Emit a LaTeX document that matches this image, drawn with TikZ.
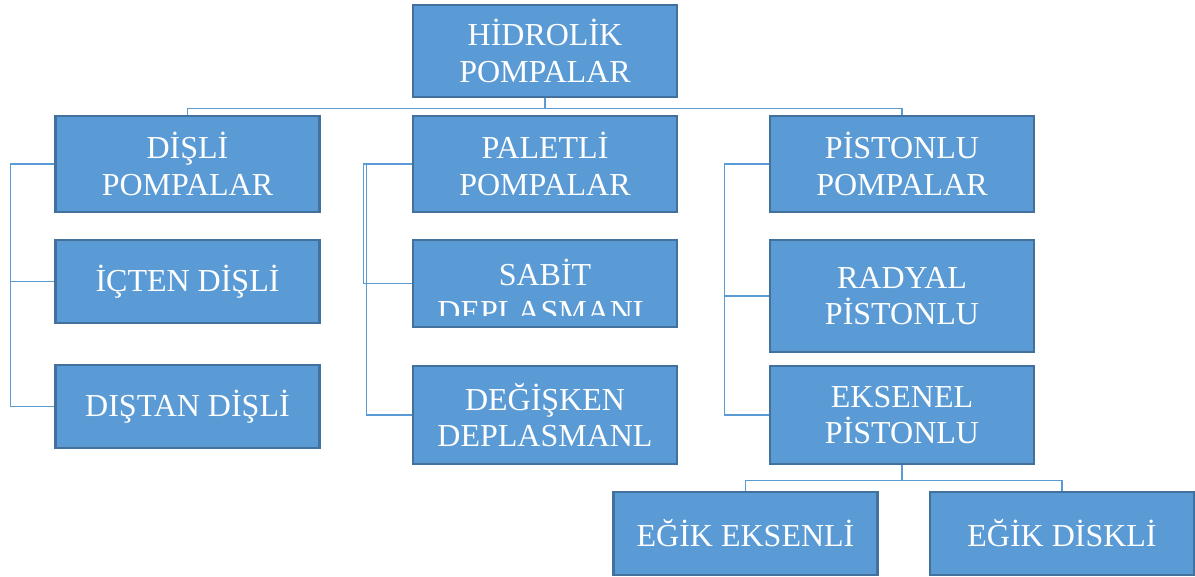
\documentclass[tikz,border=0pt]{standalone}
\usepackage{fontspec}
\setmainfont{Liberation Serif}
\usetikzlibrary{positioning}

\definecolor{kutu}{HTML}{5B9BD5}
\definecolor{kenar}{HTML}{41719C}

\tikzset{
  kutu/.style={draw=kenar,line width=1.6pt,fill=kutu,text=white,align=center,
    minimum width=198pt,inner sep=0pt,font=\fontsize{24}{27.5}\selectfont},
  yazi/.style={text=white,align=center,inner sep=0pt,font=\fontsize{24}{27.5}\selectfont},
  bag/.style={draw=kutu,line width=0.8pt}
}

\begin{document}
\begin{tikzpicture}[x=0.75pt,y=-0.75pt]
\useasboundingbox[fill=white] (0,0) rectangle (1195,577);

% kutular
\node[kutu,minimum height=69pt] at (545,51) (hidro) {HİDROLİK\\POMPALAR};

\node[kutu,minimum height=72pt] at (187.5,164) (disli) {DİŞLİ\\POMPALAR};
\node[kutu,minimum height=62pt] at (187.5,281.5) (icten) {İÇTEN DİŞLİ};
\node[kutu,minimum height=62pt] at (187.5,406.5) (distan) {DIŞTAN DİŞLİ};

\node[kutu,minimum height=72pt] at (545,164) (paletli) {PALETLİ\\POMPALAR};
\node[kutu,minimum height=65pt] at (545,283.5) (sabit) {};
\node[kutu,minimum height=73.5pt] at (545,415) (degisken) {DEĞİŞKEN\\DEPLASMANL};

\node[kutu,minimum height=72pt] at (902,164) (piston) {PİSTONLU\\POMPALAR};
\node[kutu,minimum height=84pt] at (902,296) (radyal) {RADYAL\\PİSTONLU};
\node[kutu,minimum height=73.5pt] at (902,415) (eksenel) {EKSENEL\\PİSTONLU};

\node[kutu,minimum height=62pt] at (745.5,533.5) (egikeks) {EĞİK EKSENLİ};
\node[kutu,minimum height=62pt] at (1062,533.5) (egikdisk) {EĞİK DİSKLİ};

% kesik yazi
\begin{scope}
\clip ([yshift=9pt]sabit.south west) rectangle (sabit.north east);
\node[yazi] at (545,291) (sabityazi) {SABİT\\DEPLASMANL};
\end{scope}

% baglantilar
\draw[bag] (hidro.south) -- ++(0,10) -| (disli.north);
\draw[bag] (hidro.south) -- ++(0,10) -| (piston.north);

\draw[bag] (disli.west) -- ++(-44,0) |- (icten.west);
\draw[bag] (disli.west) -- ++(-44,0) |- (distan.west);

\draw[bag] (paletli.west) -- ++(-48,0) |- (sabit.west);
\draw[bag] (paletli.west) -- ++(-45,0) |- (degisken.west);

\draw[bag] (piston.west) -- ++(-44,0) |- (radyal.west);
\draw[bag] (piston.west) -- ++(-44,0) |- (eksenel.west);

\draw[bag] (eksenel.south) -- ++(0,15) -| (egikeks.north);
\draw[bag] (eksenel.south) -- ++(0,15) -| (egikdisk.north);
\end{tikzpicture}
\end{document}
